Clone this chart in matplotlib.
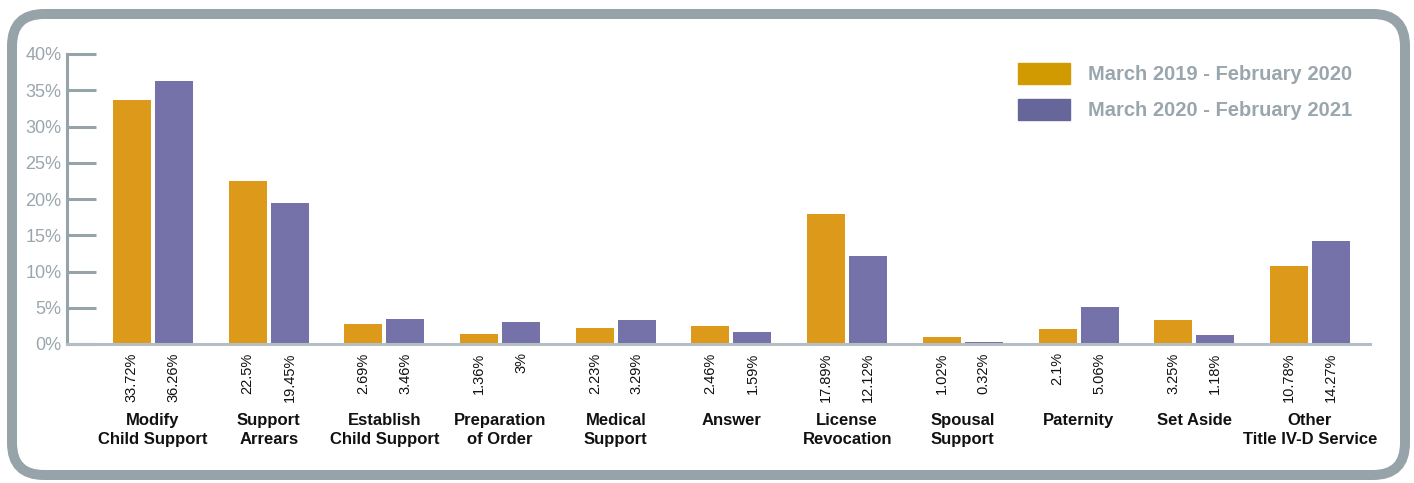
import matplotlib.pyplot as plt
from matplotlib.patches import FancyBboxPatch, Patch
from matplotlib import font_manager
import numpy as np

categories = ["Modify\nChild Support", "Support\nArrears", "Establish\nChild Support",
              "Preparation\nof Order", "Medical\nSupport", "Answer", "License\nRevocation",
              "Spousal\nSupport", "Paternity", "Set Aside", "Other\nTitle IV-D Service"]
period_2019 = [33.72, 22.5, 2.69, 1.36, 2.23, 2.46, 17.89, 1.02, 2.1, 3.25, 10.78]
period_2020 = [36.26, 19.45, 3.46, 3, 3.29, 1.59, 12.12, 0.32, 5.06, 1.18, 14.27]
series_names = ["March 2019 - February 2020", "March 2020 - February 2021"]

ORANGE = "#dd9a1a"
PURPLE = "#7472a8"
GRAY = "#96a4aa"

names = {f.name for f in font_manager.fontManager.ttflist}
narrow = "Liberation Sans Narrow" if "Liberation Sans Narrow" in names else "Liberation Sans"
plt.rcParams['font.family'] = ['Liberation Sans', 'DejaVu Sans']

fig = plt.figure(figsize=(14.14, 4.83), dpi=100)

# rounded frame around the whole chart
frame = FancyBboxPatch((0.12, 0.08), 13.93, 4.61,
                       boxstyle="round,pad=0,rounding_size=0.32",
                       transform=fig.dpi_scale_trans, facecolor="white",
                       edgecolor=GRAY, linewidth=7.2, zorder=-10)
fig.patches.append(frame)

ax = fig.add_axes([67 / 1414, 1 - 344 / 483, (1370 - 67) / 1414, 290 / 483])
ax.set_facecolor("none")

x = np.arange(len(categories))
w = 0.328
off = 0.1815
ax.bar(x - off, period_2019, w, color=ORANGE, zorder=2)
ax.bar(x + off, period_2020, w, color=PURPLE, zorder=2)

ax.set_xlim(-0.743, 10.519)
ax.set_ylim(0, 40)
ax.set_yticks(np.arange(0, 41, 5))
ax.set_yticklabels([f"{v}%" for v in range(0, 41, 5)])
ax.tick_params(axis='y', direction='in', length=21, width=2.2, color=GRAY,
               labelcolor="#9aa6ad", labelsize=13, pad=4)
ax.tick_params(axis='x', bottom=False, labelbottom=False)

for s in ["top", "right"]:
    ax.spines[s].set_visible(False)
ax.spines["left"].set_color(GRAY)
ax.spines["left"].set_linewidth(2.2)
ax.spines["bottom"].set_color("#b4bec3")
ax.spines["bottom"].set_linewidth(2.2)

# value labels under each bar
for xs, vals in [(x - off, period_2019), (x + off, period_2020)]:
    for xi, v in zip(xs, vals):
        ax.annotate(f"{v:g}%", xy=(xi, 0), xytext=(0, -6), textcoords="offset points",
                    ha="center", va="top", rotation=90, fontsize=10.5, color="#111111")

# category names
for xi, name in zip(x, categories):
    ax.annotate(name, xy=(xi, 0), xytext=(0, -50), textcoords="offset points",
                ha="center", va="top", fontsize=12, fontweight="bold",
                family=[narrow, 'DejaVu Sans'], linespacing=1.3, color="#111111")

handles = [Patch(color="#d09a00"), Patch(color="#67669a")]
leg = fig.legend(handles, series_names, loc="upper left",
                 bbox_to_anchor=(1018 / 1414, 1 - 63 / 483), frameon=False,
                 borderpad=0, borderaxespad=0, handlelength=2.6, handleheight=1.2,
                 handletextpad=0.9, labelspacing=0.75,
                 prop={"size": 14.5, "weight": "bold", "family": [narrow, 'DejaVu Sans']})
for t in leg.get_texts():
    t.set_color("#9aa6ad")

fig.savefig("out.png", dpi=100)
